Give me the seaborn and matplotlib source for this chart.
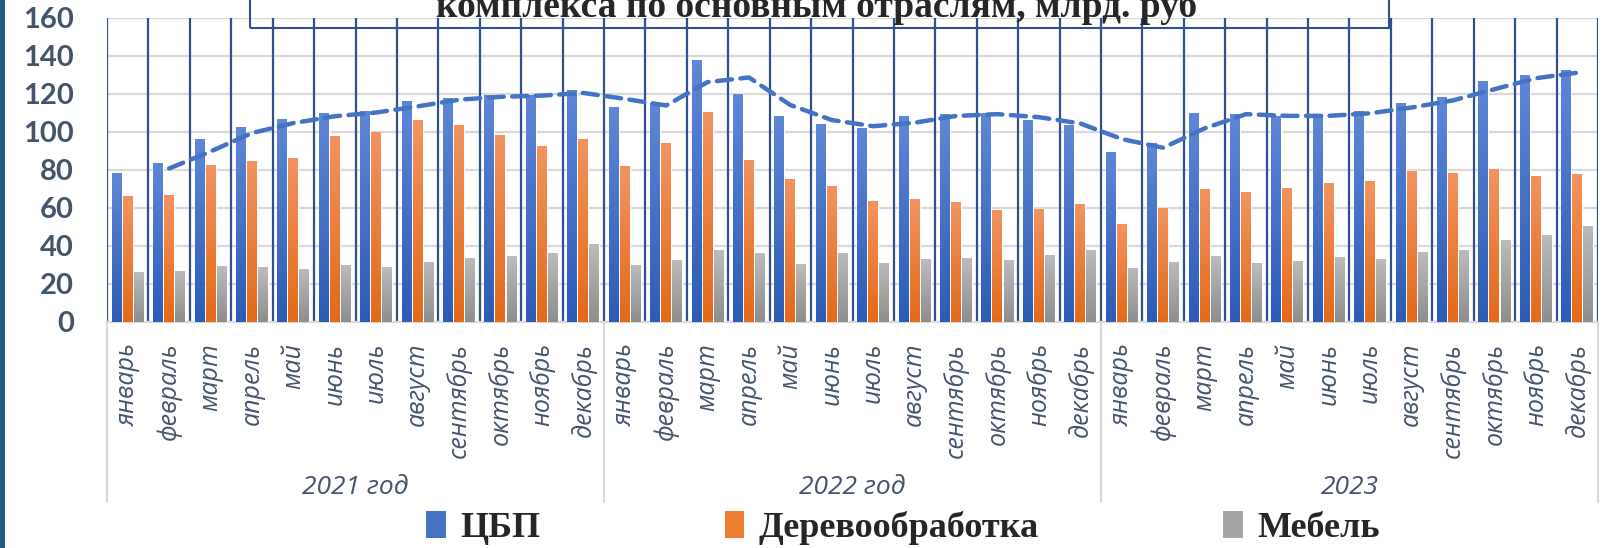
import numpy as np
import pandas as pd
import seaborn as sns
import matplotlib.pyplot as plt
import matplotlib.transforms as mtransforms
from matplotlib.patches import Rectangle, Patch
from matplotlib.lines import Line2D
from matplotlib.colors import LinearSegmentedColormap, to_hex

############################################################## Data

months = ["январь", "февраль", "март", "апрель", "май", "июнь",
          "июль", "август", "сентябрь", "октябрь", "ноябрь", "декабрь"]
years = ["2021 год", "2022 год", "2023"]
series_names = ["ЦБП", "Деревообработка", "Мебель"]

cbp_2021 = [78.4, 83.2, 96.3, 102.6, 106.8, 109.8, 110.7, 116.3, 117.7, 119.3, 119.0, 122.1]
cbp_2022 = [112.8, 115.1, 137.4, 120.0, 108.4, 104.2, 101.9, 107.9, 109.0, 109.8, 105.8, 103.2]
cbp_2023 = [89.4, 94.0, 109.8, 109.0, 108.0, 109.0, 110.7, 115.1, 118.2, 126.8, 129.8, 132.6]

wood_2021 = [66.3, 66.8, 82.6, 84.7, 86.3, 97.4, 99.5, 105.8, 103.2, 97.9, 92.6, 96.3]
wood_2022 = [82.0, 94.2, 110.5, 85.2, 75.1, 71.4, 63.5, 64.6, 63.0, 58.7, 59.3, 61.9]
wood_2023 = [51.3, 59.8, 69.8, 68.3, 70.4, 73.0, 74.1, 79.4, 78.3, 80.4, 76.7, 77.8]

furn_2021 = [26.2, 26.7, 29.4, 28.8, 27.8, 29.9, 28.8, 31.5, 33.6, 34.7, 35.8, 40.9]
furn_2022 = [29.6, 32.3, 37.6, 36.0, 30.2, 36.0, 30.7, 32.8, 33.3, 32.3, 34.9, 37.6]
furn_2023 = [28.0, 31.2, 34.4, 30.7, 31.7, 33.9, 32.8, 36.5, 37.6, 42.9, 45.5, 50.3]

title_text = "комплекса по основным отраслям, млрд. руб"

colors = ["#4472C4", "#ED7D31", "#A5A5A5"]
# bottom -> top gradient like the Excel fill
gradients = {"#4472c4": ("#2C5CB6", "#5E87D6"),
             "#ed7d31": ("#E46A17", "#F2935F"),
             "#a5a5a5": ("#8E8E8E", "#BBBBBB")}

cbp = cbp_2021 + cbp_2022 + cbp_2023
wood = wood_2021 + wood_2022 + wood_2023
furn = furn_2021 + furn_2022 + furn_2023
keys = [f"{y}-{m}" for y in years for m in months]

df = pd.DataFrame({
    "key": keys * 3,
    "series": np.repeat(series_names, len(keys)),
    "value": cbp + wood + furn,
})

############################################################## Plot

W, H = 1602, 548
sns.set_style("white")
fig = plt.figure(figsize=(W / 100, H / 100), dpi=100)
ax = fig.add_axes([107 / W, 1 - 322 / H, (1598 - 107) / W, (322 - 18) / H])

sns.barplot(data=df, x="key", y="value", hue="series", order=keys,
            hue_order=series_names, palette=colors, width=0.8, gap=0.1,
            saturation=1, legend=False, ax=ax, zorder=3)

# gradient fill on top of each bar
for p in list(ax.patches):
    fc = to_hex(p.get_facecolor())
    if fc not in gradients:
        continue
    cmap = LinearSegmentedColormap.from_list("g", gradients[fc])
    x0, y0, w, h = p.get_x(), p.get_y(), p.get_width(), p.get_height()
    ax.imshow(np.linspace(0, 1, 64).reshape(-1, 1), extent=[x0, x0 + w, y0, y0 + h],
              origin="lower", cmap=cmap, aspect="auto", zorder=3.5)

# 2-period moving average trendline of ЦБП
ma = pd.Series(cbp).rolling(2).mean()
ax.plot(np.arange(len(keys)), ma, color="#4472C4", lw=3.2, ls=(0, (3.4, 1.9)),
        dash_capstyle="round", zorder=5)

# dark vertical separators between months
for b in np.arange(-0.5, len(keys), 1.0):
    ax.axvline(b, color="#2F4F8F", lw=1.6, zorder=2)

ax.set_xlim(-0.5, len(keys) - 0.5)
ax.set_ylim(0, 160)
ax.set_yticks(range(0, 161, 20))
ax.yaxis.grid(True, color="#D9D9D9", lw=1.6)
ax.set_axisbelow(True)
for s in ["top", "right", "left"]:
    ax.spines[s].set_visible(False)
ax.spines["bottom"].set_color("#D9D9D9")
ax.spines["bottom"].set_linewidth(1.6)
ax.set_xlabel("")
ax.set_ylabel("")

ax.set_xticks(range(len(keys)))
ax.set_xticklabels(months * 3, rotation=90, fontstyle="italic", color="#44546A",
                   fontsize=18, family=["Open Sans", "DejaVu Sans"])
ax.tick_params(axis="x", length=0, pad=15)
ax.tick_params(axis="y", length=0, pad=24)
for lab in ax.get_yticklabels():
    lab.set_family(["Liberation Sans Narrow", "Lato", "DejaVu Sans"])
    lab.set_fontweight("bold")
    lab.set_fontsize(21)
    lab.set_color("#44546A")

# year labels and group separators below the axis
blend = mtransforms.blended_transform_factory(ax.transData, fig.transFigure)
for i, y in enumerate(years):
    ax.text(i * 12 + 5.5, 1 - 488 / H, y, transform=blend, ha="center", va="center",
            fontstyle="italic", fontsize=19, color="#44546A",
            family=["Liberation Sans Narrow", "Open Sans", "DejaVu Sans"])
for b in [-0.5, 11.5, 23.5, 35.5]:
    fig.add_artist(Line2D([b, b], [1 - 322 / H, 1 - 502 / H], transform=blend,
                          color="#D9D9D9", lw=1.5))

# clipped title box at the top
fig.text(817 / W, 1 - 17 / H, title_text, ha="center", va="baseline",
         family=["Liberation Serif", "DejaVu Serif"], fontweight="bold", fontsize=27)
fig.add_artist(Rectangle((250 / W, 1 - 28 / H), (1389 - 250) / W, 0.2,
                         transform=fig.transFigure, fill=False, ec="#2F528F", lw=1.5))

# slide edge strip on the left
fig.add_artist(Rectangle((0, 0), 5 / W, 1, transform=fig.transFigure,
                         color="#245C82", lw=0))

handles = [Patch(facecolor=c, edgecolor="none") for c in colors]
fig.legend(handles, series_names, loc="center", bbox_to_anchor=(903 / W, 1 - 528 / H),
           ncol=3, frameon=False, handlelength=0.55, handleheight=0.8,
           handletextpad=0.4, columnspacing=5.1,
           prop={"family": ["Liberation Serif", "DejaVu Serif"], "weight": "bold", "size": 26})

fig.savefig("out.png", dpi=100)
